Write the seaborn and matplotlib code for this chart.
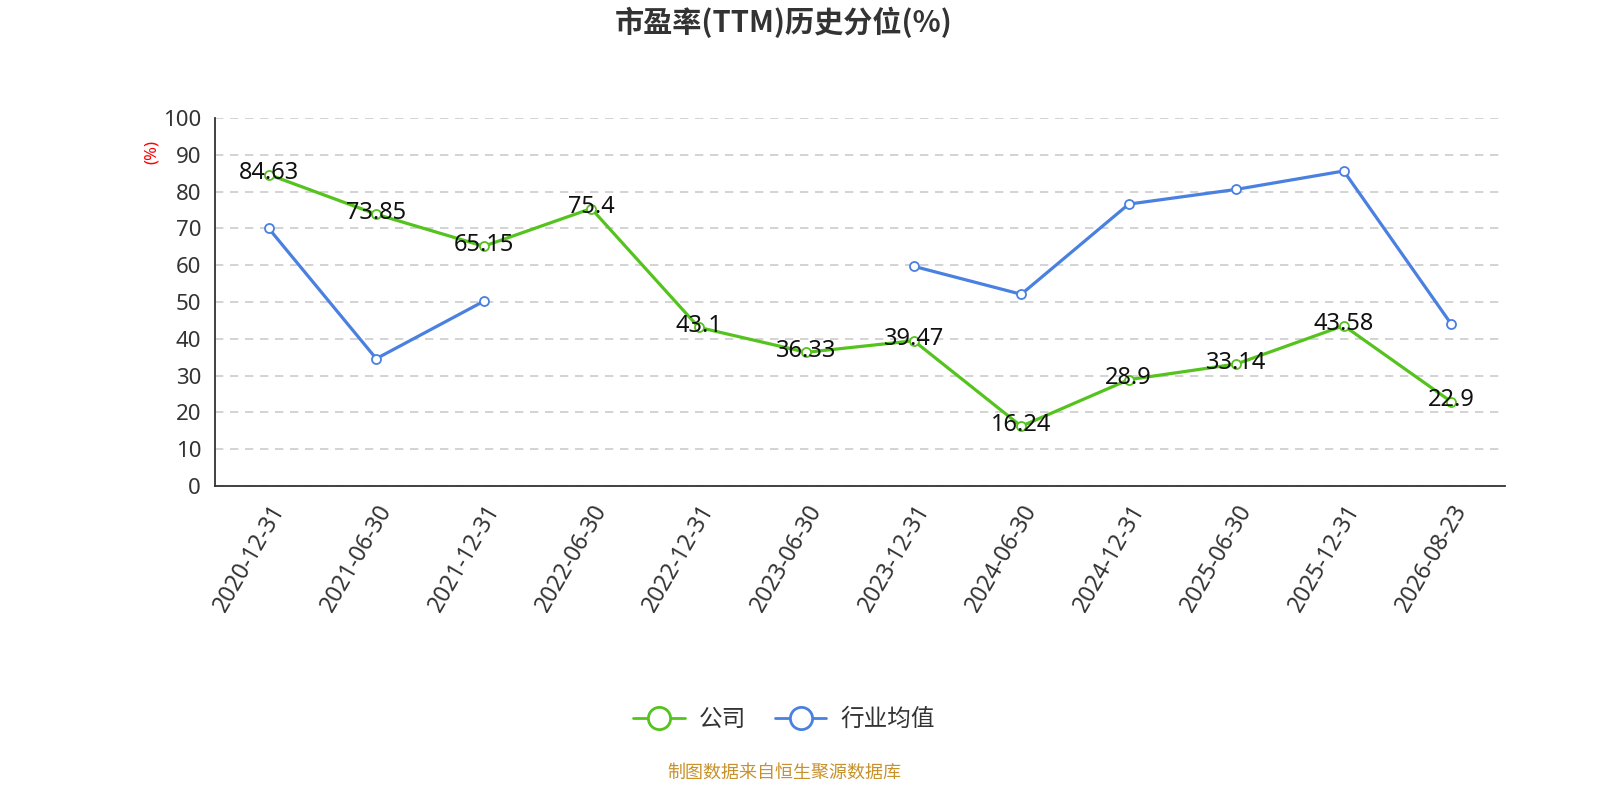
import numpy as np
import pandas as pd
import matplotlib
matplotlib.use("Agg")
import matplotlib.pyplot as plt
from matplotlib.lines import Line2D
import seaborn as sns

# data
dates = ['2020-12-31', '2021-06-30', '2021-12-31', '2022-06-30', '2022-12-31', '2023-06-30',
         '2023-12-31', '2024-06-30', '2024-12-31', '2025-06-30', '2025-12-31', '2026-08-23']
company = [84.63, 73.85, 65.15, 75.4, 43.1, 36.33, 39.47, 16.24, 28.9, 33.14, 43.58, 22.9]
company_labels = ['84.63', '73.85', '65.15', '75.4', '43.1', '36.33', '39.47', '16.24', '28.9', '33.14', '43.58', '22.9']
industry = [70.0, 34.6, 50.2, np.nan, np.nan, np.nan, 59.7, 52.1, 76.6, 80.6, 85.6, 44.0]

GREEN = '#55c31e'
BLUE = '#4a80e0'

sns.set_theme(style="white")
plt.rcParams['font.family'] = ['Noto Sans', 'Noto Sans CJK SC', 'DejaVu Sans']

df = pd.DataFrame({'pos': np.arange(len(dates)), 'company': company, 'industry': industry})

fig = plt.figure(figsize=(16, 8), dpi=100)
ax = fig.add_axes([215 / 1600, 1 - 486 / 800, 1290 / 1600, 368 / 800])

# industry average drawn in pieces so the missing values leave a gap
df['seg'] = df['industry'].isna().cumsum()
ind = df.dropna(subset=['industry'])
for _, part in ind.groupby('seg'):
    sns.lineplot(data=part, x='pos', y='industry', ax=ax, color=BLUE, linewidth=2.3,
                 marker='o', markersize=6.5, markerfacecolor='white',
                 markeredgecolor=BLUE, markeredgewidth=1.3, zorder=3)

sns.lineplot(data=df, x='pos', y='company', ax=ax, color=GREEN, linewidth=2.3,
             marker='o', markersize=6.5, markerfacecolor='white',
             markeredgecolor=GREEN, markeredgewidth=1.3, zorder=4)

for x, y, lab in zip(df['pos'], company, company_labels):
    ax.annotate(lab, (x, y), xytext=(0, 1), textcoords='offset points',
                ha='center', va='center', fontsize=17, color='#111111', zorder=5)

ax.set_xlim(-0.5, len(dates) - 0.5)
ax.set_ylim(0, 100)
ax.set_yticks(range(0, 101, 10))
ax.set_yticklabels([str(v) for v in range(0, 101, 10)], fontsize=16, color='#333333')
ax.set_xticks(np.arange(len(dates) + 1) - 0.5)
ax.set_xticklabels([])
ax.set_xticks(np.arange(len(dates)), minor=True)
ax.set_xticklabels(dates, minor=True, rotation=60, ha='right', rotation_mode='anchor',
                   fontsize=16.5, color='#333333')
ax.tick_params(axis='x', which='minor', length=0, pad=10)
ax.tick_params(axis='x', which='major', length=6, width=1.2, color='#333333', direction='out')
ax.tick_params(axis='y', length=6, width=1.2, color='#333333', direction='out', pad=4)
ax.set_xlabel('')
ax.set_ylabel('')

ax.yaxis.grid(True, linestyle=(0, (5, 4)), color='#cccccc', linewidth=1.2)
ax.xaxis.grid(False)
for s in ['top', 'right']:
    ax.spines[s].set_visible(False)
for s in ['left', 'bottom']:
    ax.spines[s].set_color('#333333')
    ax.spines[s].set_linewidth(1.3)

fig.text(152 / 1600, 1 - 152 / 800, '(%)', color='red', fontsize=12, rotation=90,
         ha='center', va='center')
fig.text(0.49, 1 - 22 / 800, '市盈率(TTM)历史分位(%)', fontsize=21, fontweight='bold',
         family=['Noto Sans CJK SC', 'DejaVu Sans'],
         color='#333333', ha='center', va='center')

handles = [
    Line2D([0], [0], color=GREEN, linewidth=2, marker='o', markersize=16,
           markerfacecolor='white', markeredgecolor=GREEN, markeredgewidth=2),
    Line2D([0], [0], color=BLUE, linewidth=2, marker='o', markersize=16,
           markerfacecolor='white', markeredgecolor=BLUE, markeredgewidth=2),
]
fig.legend(handles, ['公司', '行业均值'], loc='center', bbox_to_anchor=(0.49, 1 - 720 / 800),
           ncol=2, frameon=False, fontsize=17, handlelength=2.2, columnspacing=1.2,
           handletextpad=0.6, labelcolor='#333333')

fig.text(0.49, 1 - 773 / 800, '制图数据来自恒生聚源数据库', fontsize=13, color='#c8922a',
         ha='center', va='center')

fig.savefig('out.png', dpi=100)
